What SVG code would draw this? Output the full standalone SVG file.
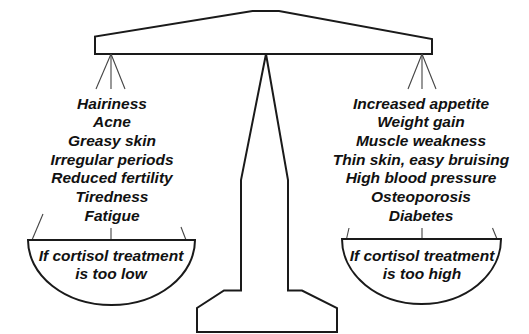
<svg xmlns="http://www.w3.org/2000/svg" width="529" height="334" viewBox="0 0 529 334">
<style>
.frame{fill:#fff;stroke:#1a1a1a;stroke-width:2;stroke-linejoin:miter}
.str{stroke:#444;stroke-width:1.1;fill:none}
text{font-family:"Liberation Sans",Arial,sans-serif;font-weight:bold;font-style:italic;font-size:15.5px;fill:#111;text-anchor:middle}
</style>
<rect width="529" height="334" fill="#fff"/>
<g id="stand">
<path class="frame" d="M266,54 L241,180 V290.5 H224 L197,308 V332 H337 V308 L302,290.5 H288 V180 Z"/>
</g>
<g id="beam">
<polygon class="frame" points="95,54 95,36.5 252.5,11 279,11 432,39 432,54"/>
</g>
<g id="connectors">
<line class="str" x1="111" y1="54" x2="96" y2="89"/>
<line class="str" x1="111" y1="54" x2="111" y2="89"/>
<line class="str" x1="111" y1="54" x2="125" y2="89"/>
<line class="str" x1="43" y1="214" x2="32" y2="240"/>
<line class="str" x1="111" y1="228" x2="111" y2="240"/>
<line class="str" x1="181" y1="227" x2="186" y2="240"/>
<line class="str" x1="422" y1="54" x2="408" y2="89"/>
<line class="str" x1="422" y1="54" x2="422" y2="89"/>
<line class="str" x1="422" y1="54" x2="436" y2="89"/>
<line class="str" x1="349" y1="228" x2="346.5" y2="239"/>
<line class="str" x1="422" y1="228" x2="422" y2="239"/>
<line class="str" x1="492.5" y1="228" x2="497" y2="239"/>
</g>
<g id="pan-low">
<path class="frame" d="M28,240 H195 A83.5,65 0 0 1 28,240 Z"/>
<text x="111" y="260.5">If cortisol treatment</text>
<text x="111" y="279">is too low</text>
</g>
<g id="pan-high">
<path class="frame" d="M342,239 H501 A79.5,65 0 0 1 342,239 Z"/>
<text x="422" y="260.5">If cortisol treatment</text>
<text x="422" y="279">is too high</text>
</g>
<g id="list-low">
<text x="112" y="108.5">Hairiness</text>
<text x="112" y="127.2">Acne</text>
<text x="112" y="145.8">Greasy skin</text>
<text x="112" y="164.5">Irregular periods</text>
<text x="112" y="183.2">Reduced fertility</text>
<text x="112" y="201.8">Tiredness</text>
<text x="112" y="220.5">Fatigue</text>
</g>
<g id="list-high">
<text x="421" y="108.5">Increased appetite</text>
<text x="421" y="127.2">Weight gain</text>
<text x="421" y="145.8">Muscle weakness</text>
<text x="421" y="164.5">Thin skin, easy bruising</text>
<text x="421" y="183.2">High blood pressure</text>
<text x="421" y="201.8">Osteoporosis</text>
<text x="421" y="220.5">Diabetes</text>
</g>
</svg>
